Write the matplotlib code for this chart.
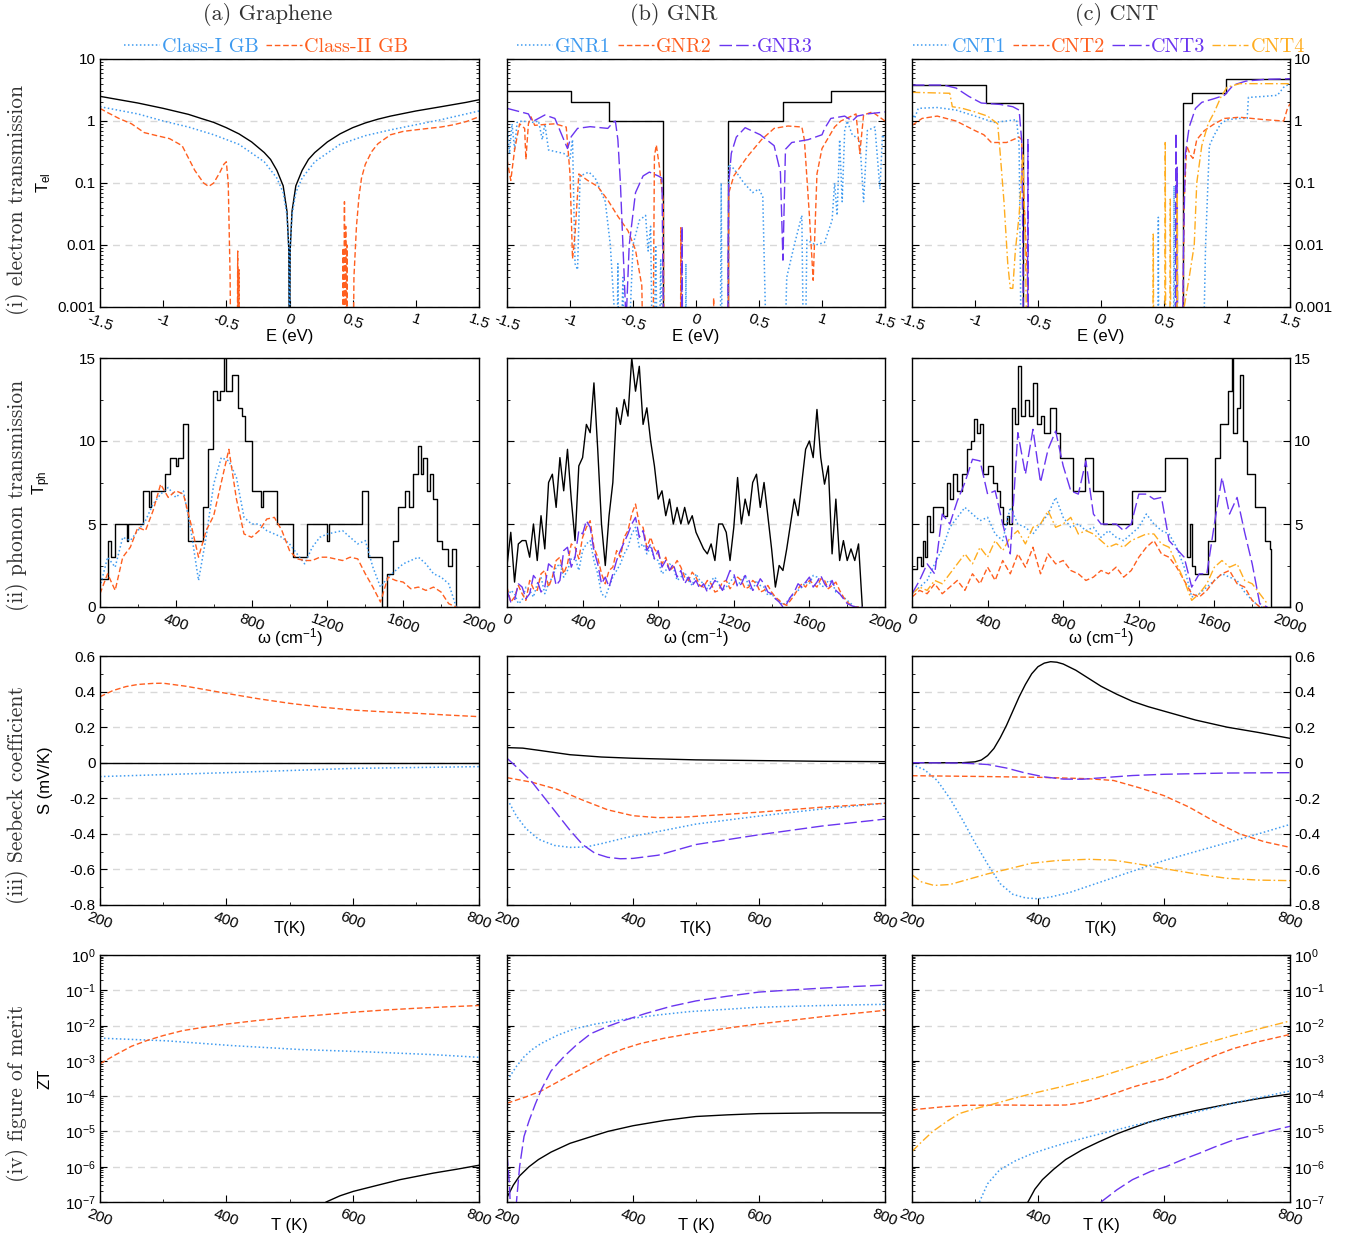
import numpy as np
import matplotlib
matplotlib.use("Agg")
import matplotlib.pyplot as plt
from matplotlib.ticker import MultipleLocator, LogLocator, NullFormatter

plt.rcParams['font.family'] = ['Liberation Sans', 'DejaVu Sans']
plt.rcParams['mathtext.fontset'] = 'custom'
plt.rcParams['mathtext.rm'] = 'Liberation Sans'
plt.rcParams['mathtext.it'] = 'Liberation Sans:italic'
plt.rcParams['mathtext.bf'] = 'Liberation Sans:bold'
plt.rcParams['axes.unicode_minus'] = False
SERIF = ['cmr10', 'DejaVu Serif']

OFF = 1e-5  # below the visible range of the log axes

# ---------------- (i) electron transmission ----------------
# graphene
gr0_e = [-1.5, -1.4, -1.2, -1.0, -0.8, -0.7, -0.6, -0.5, -0.4, -0.3, -0.2, -0.15, -0.1, -0.05, -0.02, -0.005, 0.0,
         0.005, 0.02, 0.05, 0.1, 0.15, 0.2, 0.3, 0.4, 0.5, 0.6, 0.7, 0.8, 1.0, 1.2, 1.4, 1.5]
gr0_t = [2.5, 2.3, 1.95, 1.6, 1.28, 1.1, 0.95, 0.78, 0.62, 0.46, 0.31, 0.24, 0.16, 0.09, 0.035, 0.008, OFF,
         0.008, 0.035, 0.09, 0.16, 0.24, 0.31, 0.46, 0.62, 0.78, 0.93, 1.07, 1.2, 1.45, 1.7, 2.0, 2.2]
gr1_e = [-1.5, -1.2, -1.0, -0.8, -0.6, -0.4, -0.2, -0.1, -0.05, -0.02, -0.005, 0.0,
         0.005, 0.02, 0.05, 0.1, 0.2, 0.4, 0.6, 0.8, 1.0, 1.2, 1.5]
gr1_t = [1.7, 1.3, 1.0, 0.8, 0.6, 0.42, 0.22, 0.12, 0.07, 0.03, 0.008, OFF,
         0.008, 0.03, 0.07, 0.12, 0.22, 0.42, 0.58, 0.72, 0.87, 1.05, 1.45]
gr2_e = [-1.5, -1.45, -1.35, -1.25, -1.15, -1.05, -0.95, -0.85, -0.75, -0.68,
         -0.64, -0.6, -0.55, -0.52, -0.51, -0.5, -0.485, -0.47, -0.46, -0.415,
         -0.41, -0.405, -0.4, -0.395, -0.39, 0.42, 0.425, 0.43, 0.435, 0.44,
         0.445, 0.45, 0.455, 0.46, 0.5, 0.51, 0.53, 0.55, 0.57, 0.6,
         0.65, 0.7, 0.8, 0.9, 1.0, 1.1, 1.2, 1.3, 1.4, 1.5]
gr2_t = [1.6, 1.4, 1.1, 0.9, 0.65, 0.58, 0.52, 0.4, 0.16, 0.1,
         0.088, 0.1, 0.15, 0.2, 0.21, 0.22, 0.1, 0.003, OFF, OFF,
         0.008, OFF, 0.004, OFF, OFF, OFF, 0.009, OFF, 0.05, OFF,
         0.02, OFF, 0.01, OFF, OFF, 0.003, 0.02, 0.06, 0.12, 0.2,
         0.32, 0.43, 0.6, 0.68, 0.72, 0.76, 0.8, 0.87, 0.98, 1.17]

# GNR
gnr0_e = [-1.5, -0.99, -0.69, -0.26, 0.25, 0.69, 1.07, 1.5]
gnr0_t = [3, 2, 1, OFF, 1, 2, 3, 3]
gnr1_e = [-1.5, -1.48, -1.46, -1.44, -1.42, -1.38, -1.3, -1.25, -1.22, -1.2,
          -1.17, -1.05, -1.0, -0.98, -0.96, -0.94, -0.92, -0.85, -0.8, -0.72,
          -0.68, -0.65, -0.63, -0.62, -0.61, -0.58, -0.56, -0.5, -0.45, -0.4,
          -0.38, -0.36, -0.34, -0.32, -0.3, -0.28, -0.26, -0.085, -0.08, -0.075,
          0.19, 0.2, 0.21, 0.25, 0.26, 0.3, 0.38, 0.45, 0.5, 0.53,
          0.55, 0.56, 0.69, 0.72, 0.78, 0.84, 0.86, 0.88, 0.95, 1.02,
          1.08, 1.1, 1.12, 1.14, 1.16, 1.18, 1.2, 1.24, 1.3, 1.33,
          1.36, 1.42, 1.46, 1.48, 1.5]
gnr1_t = [0.9, 0.3, 0.9, 0.35, 0.95, 1.0, 0.95, 1.0, 0.5, 0.9,
          0.34, 0.3, 0.25, 0.5, 0.005, 0.004, 0.13, 0.15, 0.12, 0.05,
          0.01, 0.001, OFF, 0.005, OFF, 0.003, OFF, 0.01, 0.025, 0.03,
          0.008, 0.02, OFF, 0.01, OFF, 0.006, OFF, OFF, 0.005, OFF,
          OFF, 0.1, OFF, OFF, 0.2, 0.17, 0.1, 0.07, 0.08, 0.06,
          0.001, OFF, OFF, 0.003, 0.01, 0.03, OFF, 0.012, 0.01, 0.011,
          0.025, 0.1, 0.03, 0.5, 0.05, 0.7, 1.0, 0.6, 0.5, 0.05,
          0.7, 0.8, 0.08, 0.6, 0.5]
gnr2_e = [-1.5, -1.47, -1.44, -1.4, -1.36, -1.35, -1.33, -1.31, -1.28, -1.2,
          -1.12, -1.03, -1.0, -0.98, -0.96, -0.93, -0.86, -0.78, -0.7, -0.62,
          -0.54, -0.48, -0.43, -0.41, -0.345, -0.33, -0.315, -0.29, -0.26, -0.25,
          -0.125, -0.12, -0.115, 0.135, 0.14, 0.145, 0.255, 0.26, 0.3, 0.41,
          0.52, 0.62, 0.73, 0.84, 0.86, 0.9, 0.93, 0.96, 1.0, 1.1,
          1.15, 1.27, 1.29, 1.3, 1.33, 1.4, 1.5]
gnr2_t = [0.24, 0.11, 0.34, 0.9, 0.76, 0.24, 0.9, 1.17, 0.85, 0.88,
          0.9, 0.8, 0.14, 0.006, 0.015, 0.14, 0.11, 0.088, 0.053, 0.029,
          0.017, 0.0083, 0.0022, OFF, OFF, 0.27, 0.41, 0.18, 0.05, OFF,
          OFF, 0.019, OFF, OFF, 0.0014, OFF, OFF, 0.069, 0.13, 0.27,
          0.5, 0.76, 0.83, 0.8, 0.5, 0.03, 0.0027, 0.14, 0.36, 0.8,
          1.0, 1.3, 0.5, 0.3, 1.25, 1.4, 1.0]
gnr3_e = [-1.5, -1.33, -1.3, -1.2, -1.12, -1.07, -1.02, -0.99, -0.94, -0.84,
          -0.7, -0.66, -0.64, -0.62, -0.6, -0.58, -0.56, -0.555, -0.55, -0.53,
          -0.48, -0.42, -0.37, -0.3, -0.27, -0.26, -0.25, -0.115, -0.11, -0.105,
          0.25, 0.255, 0.26, 0.28, 0.32, 0.39, 0.51, 0.62, 0.67, 0.69,
          0.71, 0.76, 0.89, 1.0, 1.02, 1.07, 1.18, 1.24, 1.28, 1.36, 1.5]
gnr3_t = [1.6, 1.3, 0.97, 1.25, 1.1, 0.63, 0.36, 0.56, 0.76, 0.81,
          0.76, 0.94, 1.0, 0.5, 0.1, 0.01, 0.001, OFF, 0.001, 0.01,
          0.07, 0.13, 0.15, 0.13, 0.12, 0.001, OFF, OFF, 0.02, OFF,
          OFF, 0.01, 0.1, 0.3, 0.55, 0.78, 0.6, 0.4, 0.15, 0.0057,
          0.35, 0.45, 0.5, 0.6, 0.75, 1.1, 1.2, 1.0, 1.2, 1.3, 1.4]

# CNT
cnt0_e = [-1.5, -0.91, -0.62, 0.65, 0.72, 0.99, 1.5]
cnt0_t = [3.8, 1.95, OFF, 1.95, 2.8, 4.8, 4.8]
cnt1_e = [-1.5, -1.48, -1.45, -1.3, -1.15, -1.0, -0.85, -0.75, -0.67, -0.65,
          -0.64, -0.63, 0.45, 0.455, 0.46, 0.575, 0.58, 0.585, 0.8, 0.83,
          0.86, 0.9, 0.95, 1.0, 1.1, 1.16, 1.17, 1.3, 1.4, 1.45, 1.5]
cnt1_t = [1.4, 1.1, 1.6, 1.65, 1.5, 1.2, 0.95, 1.0, 1.05, 0.4,
          0.005, OFF, OFF, 0.028, OFF, OFF, 0.09, OFF, OFF, 0.01,
          0.4, 0.6, 0.9, 1.05, 1.1, 1.1, 2.4, 2.5, 2.6, 3.5, 4.0]
cnt2_e = [-1.5, -1.42, -1.3, -1.15, -1.0, -0.93, -0.87, -0.75, -0.65, -0.63,
          -0.61, -0.58, -0.55, 0.64, 0.66, 0.68, 0.71, 0.73, 0.76, 0.82,
          0.9, 0.98, 1.1, 1.3, 1.45, 1.48, 1.5]
cnt2_t = [0.85, 1.1, 1.2, 1.0, 0.7, 0.6, 0.45, 0.45, 0.55, 0.5,
          0.05, 0.002, OFF, OFF, 0.05, 0.4, 0.28, 0.25, 0.5, 0.7,
          0.9, 1.1, 1.15, 1.05, 1.0, 1.6, 1.9]
cnt3_e = [-1.5, -1.25, -1.15, -1.05, -0.95, -0.8, -0.7, -0.65, -0.63, -0.62,
          -0.615, -0.585, -0.58, -0.575, 0.59, 0.595, 0.6, 0.605, 0.61, 0.615,
          0.64, 0.655, 0.67, 0.7, 0.75, 0.8, 0.9, 0.98, 1.05, 1.15, 1.3, 1.5]
cnt3_t = [3.8, 3.8, 3.4, 2.5, 1.95, 1.85, 1.7, 1.5, 0.5, 0.01,
          OFF, OFF, 0.5, OFF, OFF, 0.64, OFF, 0.18, OFF, OFF,
          OFF, 0.01, 0.3, 0.8, 1.6, 2.0, 2.3, 2.6, 3.8, 4.4, 4.7, 4.8]
cnt4_e = [-1.5, -1.2, -1.18, -1.1, -1.0, -0.9, -0.82, -0.8, -0.77, -0.74,
          -0.72, -0.7, -0.68, -0.65, -0.62, -0.6, -0.58, 0.41, 0.415, 0.42,
          0.505, 0.51, 0.515, 0.545, 0.55, 0.555, 0.6, 0.605, 0.61, 0.66,
          0.7, 0.74, 0.76, 0.8, 0.85, 0.9, 0.95, 1.0, 1.1, 1.5]
cnt4_t = [2.9, 2.8, 1.7, 1.6, 1.4, 1.2, 0.9, 0.3, 0.05, 0.005,
          0.002, 0.002, 0.008, 0.03, 0.3, 0.01, OFF, OFF, 0.015, OFF,
          OFF, 0.45, OFF, OFF, 0.055, OFF, OFF, 0.07, OFF, 0.001,
          0.003, 0.01, 0.1, 0.4, 0.9, 1.4, 2.4, 3.5, 4.0, 4.0]

# ---------------- (ii) phonon transmission ----------------
w40 = np.arange(0, 1881, 40)   # 48 samples
w20 = np.arange(0, 1881, 20)   # 95 samples

gr_ph0_w = [0, 44, 60, 79, 140, 150, 229, 260, 270, 343,
            370, 400, 410, 436, 466, 545, 570, 598, 620, 633,
            654, 665, 695, 730, 748, 765, 800, 850, 860, 932,
            1020, 1090, 1200, 1210, 1381, 1416, 1486, 1513, 1548, 1574,
            1610, 1630, 1653, 1680, 1695, 1706, 1725, 1741, 1759, 1777,
            1803, 1838, 1856, 1879, 2000]
gr_ph0_t = [1.7, 4, 3, 5, 4, 5, 7, 6, 7, 8,
            9, 8.5, 9, 11, 4, 6, 9.5, 13, 12.5, 13,
            15, 13, 14, 12, 11.5, 10, 7, 6, 7, 5,
            3, 5, 4, 5, 7, 3, 0, 2, 4, 6,
            7, 6, 8, 9.7, 8, 9, 7, 8, 6.5, 4,
            3.5, 2.5, 3.5, 0, 0]
gr_ph1 = [1.2, 3.0, 2.4, 4.2, 4.0, 4.6, 5.2, 6.2,
          6.8, 7.2, 6.6, 7.0, 4.6, 1.6, 4.2, 7.4,
          9.0, 8.8, 7.8, 5.4, 5.0, 5.0, 4.6, 4.4,
          4.2, 3.8, 3.2, 2.6, 3.6, 4.2, 4.4, 4.5,
          4.6, 4.2, 3.8, 4.0, 2.4, 1.2, 1.8, 2.2,
          2.6, 2.8, 3.0, 2.6, 2.0, 1.8, 1.4, 0.0]
gr_ph2 = [0.8, 2.0, 1.0, 3.0, 3.6, 4.8, 4.6, 5.8,
          7.4, 6.6, 7.0, 6.8, 5.0, 3.0, 4.6, 5.5,
          7.5, 9.5, 6.5, 4.4, 4.2, 4.6, 5.3, 5.4,
          4.6, 3.4, 2.9, 2.8, 2.8, 3.0, 3.0, 2.9,
          2.8, 3.0, 2.9, 2.0, 1.2, 0.3, 1.8, 1.6,
          1.5, 1.1, 1.2, 1.0, 1.2, 0.9, 0.2, 0.0]

gnr_ph0 = [2.5, 4.5, 1.5, 3.8, 4.0, 4.0, 3.0, 5.0, 2.8, 5.5,
           3.5, 7.5, 8.0, 6.0, 9.0, 7.0, 9.5, 6.5, 4.0, 8.5,
           9.0, 11.0, 10.5, 13.5, 9.5, 5.0, 2.5, 5.5, 7.5, 12.0,
           11.0, 12.5, 11.5, 15.0, 13.0, 14.5, 11.0, 12.0, 10.0, 8.5,
           6.5, 7.0, 5.5, 6.5, 5.0, 6.0, 5.0, 6.0, 5.0, 5.5,
           4.5, 4.0, 3.5, 3.2, 3.8, 2.8, 5.0, 5.0, 4.5, 2.8,
           4.8, 7.8, 5.0, 6.5, 5.5, 7.5, 8.0, 6.0, 7.5, 5.5,
           3.5, 1.2, 2.5, 2.2, 3.5, 5.0, 6.5, 5.5, 7.5, 9.5,
           10.0, 9.0, 11.9, 9.0, 7.4, 8.5, 3.2, 6.5, 2.8, 4.0,
           2.8, 3.5, 2.8, 3.8, 0.0]
gnr_ph1 = [0.4, 1.0, 0.8, 0.2, 0.4, 1.2, 1.0, 0.6, 1.4, 1.8,
           0.8, 1.4, 1.8, 2.4, 2.6, 1.8, 2.2, 2.9, 3.0, 2.2,
           3.4, 3.8, 4.0, 2.8, 2.0, 0.8, 0.6, 1.2, 1.8, 2.2,
           2.6, 3.2, 3.6, 4.4, 4.8, 3.6, 3.8, 3.2, 3.6, 2.9,
           2.8, 2.0, 2.2, 2.6, 2.4, 1.6, 1.8, 2.1, 1.6, 1.3,
           2.0, 1.6, 1.4, 1.1, 1.6, 1.8, 1.4, 1.0, 1.2, 1.5,
           1.8, 1.3, 1.6, 1.9, 1.2, 1.0, 1.6, 1.3, 1.2, 0.7,
           0.8, 0.5, 0.4, 0.1, 0.3, 0.6, 0.8, 1.0, 1.2, 1.5,
           1.4, 1.9, 1.8, 1.3, 1.2, 1.6, 1.5, 0.9, 0.8, 0.6,
           0.4, 0.2, 0.0, 0.0, 0.0]
gnr_ph2 = [1.2, 0.3, 0.6, 1.3, 0.8, 0.4, 1.6, 1.1, 1.0, 2.0,
           2.2, 1.2, 1.8, 2.8, 3.0, 2.0, 2.6, 3.8, 3.6, 2.9,
           4.2, 4.8, 5.2, 3.6, 3.0, 2.0, 1.4, 2.2, 2.4, 3.4,
           3.0, 4.2, 4.6, 5.6, 6.2, 5.0, 4.8, 3.6, 4.2, 3.5,
           3.2, 2.6, 3.0, 2.2, 2.4, 2.8, 2.4, 1.8, 1.6, 2.1,
           1.8, 1.3, 1.2, 1.6, 1.4, 0.9, 1.0, 1.5, 1.6, 1.1,
           1.4, 1.8, 1.6, 1.1, 1.2, 1.6, 1.4, 0.9, 1.0, 1.3,
           0.9, 0.6, 0.4, 0.2, 0.1, 0.4, 0.7, 1.1, 1.4, 1.2,
           1.6, 1.4, 1.2, 1.7, 1.6, 1.1, 1.3, 1.5, 1.0, 0.6,
           0.3, 0.1, 0.0, 0.0, 0.0]
gnr_ph3 = [1.0, 0.3, 0.4, 1.4, 1.2, 0.5, 0.8, 1.9, 1.6, 0.9,
           1.2, 2.6, 2.4, 1.3, 1.6, 3.4, 3.6, 2.4, 3.0, 4.6,
           4.4, 5.2, 4.8, 3.4, 2.6, 1.4, 1.8, 1.2, 2.0, 2.8,
           3.4, 3.9, 4.4, 5.0, 5.4, 4.2, 4.6, 3.4, 3.8, 2.9,
           3.4, 2.4, 2.8, 2.2, 2.6, 1.8, 2.2, 1.4, 1.8, 1.3,
           1.6, 1.1, 1.4, 0.9, 1.2, 1.6, 1.4, 1.0, 1.6, 2.2,
           2.0, 1.2, 1.4, 1.9, 1.6, 1.0, 1.2, 1.7, 1.4, 0.9,
           0.8, 0.5, 0.3, 0.0, 0.2, 0.6, 0.9, 1.4, 1.2, 1.5,
           1.8, 1.2, 1.5, 1.9, 1.4, 1.1, 1.6, 1.0, 0.8, 0.5,
           0.2, 0.1, 0.0, 0.0, 0.0]

cnt_ph0_w = [0, 25, 45, 60, 70, 78, 95, 113, 140, 166,
             183, 200, 219, 240, 263, 289, 310, 330, 345, 360,
             377, 400, 430, 450, 466, 480, 501, 515, 527, 545,
             563, 575, 600, 620, 642, 660, 680, 700, 730, 760,
             783, 850, 915, 959, 1012, 1162, 1339, 1453, 1471, 1480,
             1497, 1568, 1603, 1630, 1674, 1691, 1700, 1718, 1735, 1753,
             1771, 1815, 1868, 1894, 1899, 2000]
cnt_ph0_t = [2.3, 3.0, 2.5, 4.0, 3.0, 5.5, 4.5, 6.0, 6.0, 5.5,
             7.5, 6.5, 8.0, 7.0, 8.0, 9.5, 10.0, 11.3, 10.5, 11.0,
             8.0, 8.5, 7.5, 7.0, 6.0, 5.0, 5.5, 5.0, 12.0, 11.0,
             14.5, 11.5, 12.5, 11.5, 13.5, 11.0, 11.5, 10.5, 12.0, 10.5,
             9.0, 7.0, 9.0, 7.0, 5.0, 7.0, 9.0, 3.0, 5.0, 2.5,
             2.0, 4.0, 9.0, 11.0, 13.0, 15.0, 10.5, 12.0, 14.0, 10.0,
             8.0, 6.0, 4.0, 3.5, 0.0, 0.0]
cnt_ph1 = [0.8, 1.2, 1.6, 2.6, 3.5, 4.8, 5.4, 6.0,
           5.6, 5.2, 5.4, 4.4, 4.0, 6.0, 5.0, 4.8,
           4.4, 5.0, 5.6, 6.6, 5.4, 4.8, 5.0, 4.6,
           4.8, 4.2, 4.6, 4.2, 4.0, 4.4, 4.8, 5.6,
           5.0, 4.6, 4.4, 3.6, 2.4, 0.6, 0.8, 1.2,
           1.6, 2.0, 1.8, 1.6, 0.9, 0.4, 0.0, 0.0]
cnt_ph2 = [0.6, 1.0, 0.8, 1.4, 0.8, 1.2, 1.6, 1.0,
           2.0, 1.4, 2.4, 1.6, 2.8, 2.0, 3.2, 2.4,
           3.6, 2.0, 3.2, 2.6, 2.8, 2.2, 2.0, 1.6,
           1.8, 2.2, 2.0, 2.4, 1.8, 2.2, 3.0, 3.6,
           4.0, 3.2, 3.0, 2.4, 1.6, 0.8, 0.6, 1.0,
           1.6, 2.0, 2.2, 1.4, 1.2, 0.4, 0.0, 0.0]
cnt_ph3 = [0.8, 1.6, 2.6, 2.0, 5.6, 5.0, 6.4, 7.5,
           8.9, 8.8, 6.8, 7.0, 5.0, 3.2, 10.5, 8.0,
           10.7, 7.5, 9.5, 10.6, 8.5, 7.0, 6.8, 8.8,
           5.6, 5.0, 5.0, 5.0, 4.6, 5.0, 6.8, 6.8,
           6.5, 6.6, 4.0, 3.5, 3.0, 1.2, 2.0, 2.0,
           5.0, 7.8, 5.6, 6.6, 4.5, 2.6, 0.2, 0.0]
cnt_ph4 = [0.8, 1.2, 1.0, 1.6, 1.4, 2.0, 2.6, 3.2,
           2.6, 3.6, 3.0, 4.0, 3.4, 4.2, 4.6, 3.8,
           4.8, 5.0, 5.8, 4.8, 5.0, 5.4, 4.4, 4.6,
           4.4, 4.0, 3.6, 3.8, 3.6, 4.0, 4.2, 4.4,
           4.4, 3.8, 3.6, 2.6, 1.6, 0.4, 0.8, 1.4,
           2.4, 2.8, 2.4, 2.6, 1.6, 1.4, 0.8, 0.2]

# ---------------- (iii) Seebeck coefficient ----------------
gr_s0_T, gr_s0 = [200, 800], [0.0, 0.0]
gr_s1_T = [200, 400, 600, 800]
gr_s1 = [-0.078, -0.056, -0.032, -0.022]
gr_s2_T = [200, 220, 241, 260, 284, 300, 336, 360, 400, 450, 500, 550, 600, 650, 700, 750, 800]
gr_s2 = [0.371, 0.405, 0.428, 0.44, 0.446, 0.447, 0.43, 0.415, 0.39, 0.36, 0.334, 0.313,
         0.296, 0.286, 0.278, 0.268, 0.259]

gnr_s0_T = [200, 225, 250, 300, 350, 400, 500, 600, 700, 800]
gnr_s0 = [0.085, 0.082, 0.07, 0.045, 0.032, 0.025, 0.016, 0.012, 0.008, 0.006]
gnr_s1_T = [204, 215, 230, 250, 275, 300, 325, 350, 390, 450, 500, 600, 700, 800]
gnr_s1 = [-0.228, -0.3, -0.37, -0.43, -0.465, -0.476, -0.474, -0.455, -0.42, -0.38, -0.345,
          -0.3, -0.26, -0.228]
gnr_s2_T = [200, 240, 280, 320, 360, 400, 440, 480, 520, 600, 700, 800]
gnr_s2 = [-0.084, -0.11, -0.15, -0.21, -0.265, -0.298, -0.309, -0.306, -0.297, -0.278, -0.25, -0.228]
gnr_s3_T = [200, 220, 240, 260, 280, 300, 320, 340, 360, 380, 400, 440, 500, 600, 700, 800]
gnr_s3 = [0.025, -0.04, -0.11, -0.2, -0.29, -0.38, -0.46, -0.51, -0.532, -0.54, -0.538,
          -0.52, -0.46, -0.405, -0.356, -0.317]

cnt_s0_T = [200, 280, 300, 310, 320, 330, 340, 350, 360, 370, 380, 390, 400, 410, 420, 430,
            440, 460, 480, 500, 525, 550, 575, 600, 650, 700, 750, 800]
cnt_s0 = [0.0, 0.0, 0.005, 0.015, 0.04, 0.08, 0.14, 0.21, 0.29, 0.37, 0.44, 0.5, 0.54, 0.56,
          0.568, 0.565, 0.555, 0.52, 0.475, 0.43, 0.385, 0.345, 0.315, 0.29, 0.24, 0.2, 0.17, 0.137]
cnt_s1_T = [200, 220, 240, 260, 280, 300, 320, 340, 360, 380, 400, 420, 450, 500, 550, 600,
            650, 700, 750, 800]
cnt_s1 = [-0.01, -0.04, -0.1, -0.2, -0.32, -0.45, -0.57, -0.68, -0.74, -0.76, -0.765, -0.755,
          -0.73, -0.67, -0.61, -0.55, -0.5, -0.45, -0.4, -0.347]
cnt_s2_T = [200, 300, 400, 480, 520, 560, 600, 640, 680, 720, 760, 800]
cnt_s2 = [-0.073, -0.077, -0.082, -0.09, -0.1, -0.14, -0.185, -0.25, -0.33, -0.4, -0.445, -0.476]
cnt_s3_T = [200, 280, 320, 350, 380, 410, 440, 470, 500, 550, 600, 700, 800]
cnt_s3 = [0.0, -0.002, -0.01, -0.03, -0.058, -0.08, -0.092, -0.093, -0.085, -0.072, -0.065,
          -0.058, -0.056]
cnt_s4_T = [200, 215, 235, 260, 290, 320, 350, 390, 430, 480, 520, 560, 600, 650, 700, 750, 800]
cnt_s4 = [-0.63, -0.67, -0.69, -0.685, -0.655, -0.625, -0.6, -0.565, -0.55, -0.543, -0.548,
          -0.57, -0.595, -0.625, -0.65, -0.66, -0.663]

# ---------------- (iv) figure of merit ----------------
gr_z0_T = [558, 580, 601, 640, 675, 728, 765, 800]
gr_z0 = [1e-7, 1.5e-7, 2e-7, 3e-7, 4.3e-7, 6.6e-7, 8.5e-7, 1.1e-6]
gr_z1_T = [200, 305, 410, 516, 622, 728, 800]
gr_z1 = [4.4e-3, 3.7e-3, 2.7e-3, 2.1e-3, 1.8e-3, 1.5e-3, 1.26e-3]
gr_z2_T = [200, 225, 250, 275, 300, 331, 365, 400, 450, 500, 550, 601, 650, 701, 750, 800]
gr_z2 = [8.3e-4, 1.5e-3, 2.6e-3, 3.8e-3, 5.2e-3, 7.2e-3, 9e-3, 1.1e-2, 1.4e-2, 1.7e-2,
         2.0e-2, 2.4e-2, 2.75e-2, 3.1e-2, 3.4e-2, 3.7e-2]

gnr_z0_T = [200, 210, 220, 235, 250, 270, 300, 330, 360, 400, 450, 500, 550, 600, 700, 800]
gnr_z0 = [1.35e-7, 3e-7, 5.5e-7, 1e-6, 1.6e-6, 2.6e-6, 4.6e-6, 6.8e-6, 1.0e-5, 1.45e-5,
          2.05e-5, 2.65e-5, 2.95e-5, 3.2e-5, 3.35e-5, 3.35e-5]
gnr_z1_T = [204, 215, 227, 240, 254, 280, 307, 340, 386, 440, 491, 550, 597, 650, 702, 800]
gnr_z1 = [3.5e-4, 7e-4, 1.3e-3, 2.1e-3, 3.1e-3, 5.3e-3, 8.1e-3, 1.1e-2, 1.5e-2, 2e-2, 2.5e-2,
          2.9e-2, 3.3e-2, 3.5e-2, 3.7e-2, 4.0e-2]
gnr_z2_T = [200, 230, 254, 280, 307, 333, 359, 385, 412, 450, 491, 540, 597, 650, 702, 750, 800]
gnr_z2 = [6.3e-5, 9.5e-5, 1.4e-4, 2.5e-4, 4.6e-4, 8.2e-4, 1.45e-3, 2.2e-3, 3.1e-3, 4.4e-3,
          5.9e-3, 8e-3, 1.1e-2, 1.4e-2, 1.8e-2, 2.2e-2, 2.7e-2]
gnr_z3_T = [200, 204, 207, 213, 215, 220, 227, 235, 245, 255, 270, 290, 310, 333, 360, 386,
            420, 460, 500, 550, 600, 650, 700, 750, 800]
gnr_z3 = [2.4e-6, 3e-7, 1e-8, 1e-8, 1e-7, 1e-6, 7.2e-6, 2e-5, 6e-5, 1.6e-4, 5.2e-4, 1.3e-3,
          2.8e-3, 5.9e-3, 9.5e-3, 1.4e-2, 2.2e-2, 3.5e-2, 5e-2, 6.8e-2, 8.9e-2, 1.02e-1,
          1.15e-1, 1.28e-1, 1.4e-1]

cnt_z0_T = [384, 395, 407, 425, 444, 470, 497, 525, 550, 575, 603, 650, 709, 750, 800]
cnt_z0 = [1e-7, 2.3e-7, 4.3e-7, 8.5e-7, 1.6e-6, 3e-6, 5.1e-6, 8.5e-6, 1.25e-5, 1.8e-5,
          2.5e-5, 3.9e-5, 6.3e-5, 8.5e-5, 1.15e-4]
cnt_z1_T = [307, 320, 339, 365, 392, 420, 444, 480, 524, 560, 603, 650, 709, 750, 800]
cnt_z1 = [1e-7, 3.3e-7, 8.1e-7, 1.5e-6, 2.4e-6, 3.5e-6, 4.7e-6, 7e-6, 1.1e-5, 1.6e-5,
          2.3e-5, 3.5e-5, 6.3e-5, 9e-5, 1.4e-4]
cnt_z2_T = [200, 250, 286, 350, 392, 444, 470, 497, 525, 550, 575, 603, 630, 656, 680, 709,
            750, 800]
cnt_z2 = [4.1e-5, 5e-5, 5.5e-5, 5.6e-5, 5.5e-5, 5.6e-5, 6.5e-5, 8.7e-5, 1.25e-4, 1.8e-4,
          2.4e-4, 3.2e-4, 5.5e-4, 9e-4, 1.4e-3, 2.2e-3, 3.5e-3, 5.6e-3]
cnt_z3_T = [500, 525, 550, 580, 603, 630, 656, 680, 709, 750, 800]
cnt_z3 = [1e-7, 2.2e-7, 4.3e-7, 7.5e-7, 1e-6, 1.6e-6, 2.4e-6, 3.6e-6, 5.6e-6, 8.5e-6, 1.4e-5]
cnt_z4_T = [200, 215, 233, 255, 275, 300, 328, 360, 392, 440, 497, 550, 603, 656, 709, 750, 800]
cnt_z4 = [2.7e-6, 5e-6, 1e-5, 1.9e-5, 3.2e-5, 4.4e-5, 5.9e-5, 8.5e-5, 1.2e-4, 1.9e-4, 3.5e-4,
          7e-4, 1.45e-3, 2.8e-3, 5.2e-3, 8e-3, 1.35e-2]

# ---------------- styles ----------------
C_BLUE, C_ORANGE, C_PURPLE, C_YELLOW = '#3f9bf0', '#ff5f1f', '#6a35f0', '#ffad1f'
BLACK = dict(color='k', lw=1.0)
BLUE = dict(color=C_BLUE, lw=1.1, ls=(0, (1, 1.6)))
ORANGE = dict(color=C_ORANGE, lw=1.0, ls=(0, (4, 2)))
PURPLE = dict(color=C_PURPLE, lw=1.0, ls=(0, (9, 3)))
YELLOW = dict(color=C_YELLOW, lw=1.0, ls=(0, (6, 2, 1.2, 2)))

W, H = 1348, 1240
fig = plt.figure(figsize=(W / 100, H / 100), dpi=100)
col_x = [(100, 479), (507, 885), (912, 1290)]
row_y = [(59, 307), (358, 607), (656, 905), (955, 1202)]
axes = [[fig.add_axes([l / W, 1 - b / H, (r - l) / W, (b - t) / H]) for (l, r) in col_x]
        for (t, b) in row_y]


def style(ax, col):
    ax.tick_params(which='both', direction='in', top=False, right=True, left=True,
                   labelsize=11, pad=3)
    ax.tick_params(which='major', length=5, width=0.8)
    ax.tick_params(which='minor', length=2.5, width=0.6)
    for s in ax.spines.values():
        s.set_linewidth(1.0)
    ax.yaxis.grid(True, which='major', color='#d8d8d8', ls=(0, (5, 4)), lw=1.0)
    ax.set_axisbelow(True)
    ax.tick_params(axis='y', labelleft=(col == 0), labelright=(col == 2))
    for lbl in ax.get_xticklabels():
        lbl.set_rotation(-20)
        lbl.set_ha('center')


# row (i)
a = axes[0][0]
a.plot(gr0_e, gr0_t, **BLACK)
a.plot(gr1_e, gr1_t, label='Class-I GB', **BLUE)
a.plot(gr2_e, gr2_t, label='Class-II GB', **ORANGE)
a = axes[0][1]
a.plot(gnr0_e, gnr0_t, drawstyle='steps-post', **BLACK)
a.plot(gnr1_e, gnr1_t, label='GNR1', **BLUE)
a.plot(gnr2_e, gnr2_t, label='GNR2', **ORANGE)
a.plot(gnr3_e, gnr3_t, label='GNR3', **PURPLE)
a = axes[0][2]
a.plot(cnt0_e, cnt0_t, drawstyle='steps-post', **BLACK)
a.plot(cnt1_e, cnt1_t, label='CNT1', **BLUE)
a.plot(cnt2_e, cnt2_t, label='CNT2', **ORANGE)
a.plot(cnt3_e, cnt3_t, label='CNT3', **PURPLE)
a.plot(cnt4_e, cnt4_t, label='CNT4', **YELLOW)

# row (ii)
a = axes[1][0]
a.plot(gr_ph0_w, gr_ph0_t, drawstyle='steps-post', **BLACK)
a.plot(w40, gr_ph1, **BLUE)
a.plot(w40, gr_ph2, **ORANGE)
a = axes[1][1]
a.plot(w20, gnr_ph0, **BLACK)
a.plot(w20, gnr_ph1, **BLUE)
a.plot(w20, gnr_ph2, **ORANGE)
a.plot(w20, gnr_ph3, **PURPLE)
a = axes[1][2]
a.plot(cnt_ph0_w, cnt_ph0_t, drawstyle='steps-post', **BLACK)
a.plot(w40, cnt_ph1, **BLUE)
a.plot(w40, cnt_ph2, **ORANGE)
a.plot(w40, cnt_ph4, **YELLOW)
a.plot(w40, cnt_ph3, **PURPLE)

# row (iii)
a = axes[2][0]
a.plot(gr_s0_T, gr_s0, **BLACK)
a.plot(gr_s1_T, gr_s1, **BLUE)
a.plot(gr_s2_T, gr_s2, **ORANGE)
a = axes[2][1]
a.plot(gnr_s0_T, gnr_s0, **BLACK)
a.plot(gnr_s1_T, gnr_s1, **BLUE)
a.plot(gnr_s2_T, gnr_s2, **ORANGE)
a.plot(gnr_s3_T, gnr_s3, **PURPLE)
a = axes[2][2]
a.plot(cnt_s0_T, cnt_s0, **BLACK)
a.plot(cnt_s1_T, cnt_s1, **BLUE)
a.plot(cnt_s2_T, cnt_s2, **ORANGE)
a.plot(cnt_s3_T, cnt_s3, **PURPLE)
a.plot(cnt_s4_T, cnt_s4, **YELLOW)

# row (iv)
a = axes[3][0]
a.plot(gr_z0_T, gr_z0, **BLACK)
a.plot(gr_z1_T, gr_z1, **BLUE)
a.plot(gr_z2_T, gr_z2, **ORANGE)
a = axes[3][1]
a.plot(gnr_z0_T, gnr_z0, **BLACK)
a.plot(gnr_z1_T, gnr_z1, **BLUE)
a.plot(gnr_z2_T, gnr_z2, **ORANGE)
a.plot(gnr_z3_T, gnr_z3, **PURPLE)
a = axes[3][2]
a.plot(cnt_z0_T, cnt_z0, **BLACK)
a.plot(cnt_z1_T, cnt_z1, **BLUE)
a.plot(cnt_z2_T, cnt_z2, **ORANGE)
a.plot(cnt_z3_T, cnt_z3, **PURPLE)
a.plot(cnt_z4_T, cnt_z4, **YELLOW)

e_ticks = [-1.5, -1, -0.5, 0, 0.5, 1, 1.5]
e_labels = ['-1.5', '-1', '-0.5', '0', '0.5', '1', '1.5']
w_ticks = [0, 400, 800, 1200, 1600, 2000]
t_ticks = [200, 400, 600, 800]
s_ticks = [-0.8, -0.6, -0.4, -0.2, 0, 0.2, 0.4, 0.6]
s_labels = ['-0.8', '-0.6', '-0.4', '-0.2', '0', '0.2', '0.4', '0.6']
z_ticks = [1e-7, 1e-6, 1e-5, 1e-4, 1e-3, 1e-2, 1e-1, 1]
z_labels = ['$10^{-7}$', '$10^{-6}$', '$10^{-5}$', '$10^{-4}$', '$10^{-3}$',
            '$10^{-2}$', '$10^{-1}$', '$10^{0}$']

for c in range(3):
    a = axes[0][c]
    a.set_yscale('log')
    a.set_yticks([1e-3, 1e-2, 1e-1, 1, 10], labels=['0.001', '0.01', '0.1', '1', '10'])
    a.yaxis.set_minor_locator(LogLocator(base=10, subs=range(2, 10)))
    a.yaxis.set_minor_formatter(NullFormatter())
    a.set_xticks(e_ticks, labels=e_labels)
    a.set_xlim(-1.5, 1.5)
    a.set_ylim(1e-3, 10)
    a.set_xlabel('E (eV)', fontsize=12)
    a.xaxis.set_label_coords(0.5, -0.09)

    a = axes[1][c]
    a.set_yticks([0, 5, 10, 15], labels=['0', '5', '10', '15'])
    a.yaxis.set_minor_locator(MultipleLocator(2.5))
    a.set_xticks(w_ticks, labels=[str(v) for v in w_ticks])
    a.xaxis.set_minor_locator(MultipleLocator(200))
    a.set_xlim(0, 2000)
    a.set_ylim(0, 15)
    a.set_xlabel('ω (cm$^{-1}$)', fontsize=12)
    a.xaxis.set_label_coords(0.5, -0.075)

    a = axes[2][c]
    a.set_yticks(s_ticks, labels=s_labels)
    a.yaxis.set_minor_locator(MultipleLocator(0.1))
    a.set_xticks(t_ticks, labels=[str(v) for v in t_ticks])
    a.xaxis.set_minor_locator(MultipleLocator(100))
    a.set_xlim(200, 800)
    a.set_ylim(-0.8, 0.6)
    a.set_xlabel('T(K)', fontsize=12)
    a.xaxis.set_label_coords(0.5, -0.065)

    a = axes[3][c]
    a.set_yscale('log')
    a.set_yticks(z_ticks, labels=z_labels)
    a.yaxis.set_minor_locator(LogLocator(base=10, subs=range(2, 10)))
    a.yaxis.set_minor_formatter(NullFormatter())
    a.set_xticks(t_ticks, labels=[str(v) for v in t_ticks])
    a.xaxis.set_minor_locator(MultipleLocator(100))
    a.set_xlim(200, 800)
    a.set_ylim(1e-7, 1)
    a.set_xlabel('T (K)', fontsize=12)
    a.xaxis.set_label_coords(0.5, -0.065)

    for r in range(4):
        style(axes[r][c], c)

ylabels = ['T$_{\\mathrm{el}}$', 'T$_{\\mathrm{ph}}$', 'S (mV/K)', 'ZT']
for r in range(4):
    axes[r][0].set_ylabel(ylabels[r], fontsize=12)
    axes[r][0].yaxis.set_label_coords(-0.125, 0.5)

# legends above the top row
leg_cx = [0.438, 0.418, 0.521]
for c in range(3):
    n = len(axes[0][c].get_legend_handles_labels()[0])
    axes[0][c].legend(loc='lower center', bbox_to_anchor=(leg_cx[c], 1.0), ncol=n,
                      frameon=False, labelcolor='linecolor', handlelength=1.8,
                      handletextpad=0.1, columnspacing=0.35, borderaxespad=0.05,
                      borderpad=0.1, prop={'family': SERIF, 'size': 14.5})

titles = ['(a) Graphene', '(b) GNR', '(c) CNT']
title_x = [268, 674, 1117]
for c in range(3):
    fig.text(title_x[c] / W, 1 - 15 / H, titles[c], ha='center', va='center',
             family=SERIF, fontsize=16, color='#333333')

row_labels = ['(i) electron transmission', '(ii) phonon transmission',
              '(iii) Seebeck coefficient', '(iv) figure of merit']
row_cy = [200, 495, 795, 1093]
for r in range(4):
    fig.text(18 / W, 1 - row_cy[r] / H, row_labels[r], rotation=90, ha='center',
             va='center', family=SERIF, fontsize=15.5, color='#333333')

fig.savefig('out.png', dpi=100)
